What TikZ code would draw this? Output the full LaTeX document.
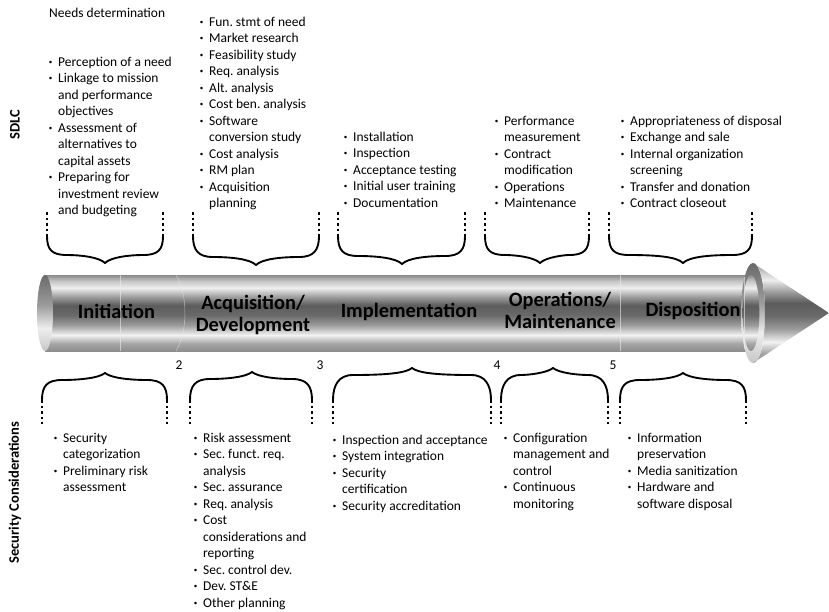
\documentclass[tikz,border=0pt]{standalone}
\usepackage{fontspec}
\setmainfont{Carlito}

% metal bands of the tube, bottom to top
\definecolor{mA}{HTML}{8E8E8E}
\definecolor{mB}{HTML}{A6A6A6}
\definecolor{mC}{HTML}{F2F2F2}
\definecolor{mD}{HTML}{9C9C9C}
\definecolor{mE}{HTML}{6A6A6A}
\definecolor{mF}{HTML}{5C5C5C}
\definecolor{mG}{HTML}{A2A2A2}
\definecolor{mH}{HTML}{EEEEEE}
\definecolor{mI}{HTML}{C6C6C6}
\definecolor{mJ}{HTML}{8A8A8A}
\pgfdeclareverticalshading{metal}{100bp}{color(0bp)=(mA); color(25bp)=(mA); color(30bp)=(mB);
  color(35.5bp)=(mC); color(42bp)=(mD); color(48.5bp)=(mE); color(55bp)=(mF); color(61bp)=(mG);
  color(66.5bp)=(mH); color(71bp)=(mI); color(75bp)=(mJ); color(100bp)=(mJ)}
\pgfdeclareverticalshading{capshade}{100bp}{color(0bp)=(mI); color(25bp)=(mI); color(40bp)=(mH);
  color(55bp)=(mD); color(75bp)=(mE); color(100bp)=(mE)}

\newlength\bulind \setlength\bulind{8pt}
\newcommand\itm{\par\hangindent=\bulind\hangafter=1\noindent
  \hbox to\bulind{\raisebox{0.3ex}{\fontsize{6}{6}\selectfont\textbullet}\hss}}
\newcommand\bullets[1]{\begin{minipage}[t]{6cm}\rightskip=0pt plus 1fil\relax
  \parindent=0pt\frenchspacing #1\end{minipage}}

% braces: left x, right x, cusp x, cusp y
\newcommand\topbrace[4]{%
  \draw[bracedash] (#1,212) -- (#1,236) (#2,212) -- (#2,236);
  \draw[bracecurve] (#1,236) .. controls (#1,250) and (#1+5,#4-8) .. (#1+20,#4-8)
    .. controls (#3-25,#4-8) and (#3-6,#4-6) .. (#3,#4)
    .. controls (#3+6,#4-6) and (#3+25,#4-8) .. (#2-20,#4-8)
    .. controls (#2-5,#4-8) and (#2,250) .. (#2,236);}
\newcommand\botbrace[4]{%
  \draw[bracedash] (#1,400) -- (#1,424) (#2,400) -- (#2,424);
  \draw[bracecurve] (#1,400) .. controls (#1,386) and (#1+5,#4+7) .. (#1+20,#4+7)
    .. controls (#3-25,#4+7) and (#3-6,#4+5) .. (#3,#4)
    .. controls (#3+6,#4+5) and (#3+25,#4+7) .. (#2-20,#4+7)
    .. controls (#2-5,#4+7) and (#2,386) .. (#2,400);}

\begin{document}
\begin{tikzpicture}[x=0.03cm, y=-0.03cm,
    lst/.style={anchor=base west, inner sep=0pt, font=\fontsize{11.5}{14.1}\selectfont},
    phase/.style={anchor=base, inner sep=0pt, align=center,
      font=\fontsize{17.4}{18.3}\selectfont\bfseries},
    side/.style={rotate=90, inner sep=0pt, font=\fontsize{12.4}{14}\selectfont\bfseries},
    num/.style={anchor=base, inner sep=0pt, font=\fontsize{11.5}{14}\selectfont},
    bracecurve/.style={line width=1.6pt},
    bracedash/.style={line width=1.6pt, dash pattern=on 2.5pt off 2.2pt},
    divider/.style={white!85!gray, line width=0.4pt, opacity=0.6}]
  \useasboundingbox (0,0) rectangle (829,612);

  % the tube
  \shade[shading=metal] (45,275) rectangle (753,351);
  \shade[shading=capshade] (45,313) ellipse [x radius=0.24cm, y radius=1.14cm];
  \draw[divider] (120,275) -- (120,351);
  \draw[divider] (176,275) .. controls (188,295) and (188,331) .. (176,351);
  \draw[divider] (620,275) -- (620,351);
  % arrow head
  \shade[shading=capshade] (753,313) ellipse [x radius=0.36cm, y radius=1.5cm];
  \shade[shading=metal] (751,313) ellipse [x radius=0.25cm, y radius=1.14cm];
  \shade[shading=metal] (753,263) -- (829,313) -- (753,363)
    .. controls (769,363) and (769,263) .. (753,263) -- cycle;
  \draw[divider] (744,277) -- (744,349);

  \node[phase] (init) at (116.5,318) {Initiation};
  \node[phase] (acq) at (253,331) {Acquisition/\\Development};
  \node[phase] (impl) at (409,317) {Implementation};
  \node[phase] (oper) at (560,328) {Operations/\\Maintenance};
  \node[phase] (disp) at (693,316) {Disposition};

  \node[num] (n2) at (179,369) {2};
  \node[num] (n3) at (320,369) {3};
  \node[num] (n4) at (497,369) {4};
  \node[num] (n5) at (613,369) {5};

  \node[side] (sdlc) at (15,125) {SDLC};
  \node[side] (secu) at (15,492.5) {Security Considerations};
  \node[lst] (needs) at (49,17) {Needs determination};

  % activities above the tube
  \node[lst] (top1) at (48.6,66) {\bullets{\itm Perception of a need
    \itm Linkage to mission\\and performance\\objectives
    \itm Assessment of\\alternatives to\\capital assets
    \itm Preparing for\\investment review\\and budgeting}};
  \node[lst] (top2) at (199.6,26) {\bullets{\itm Fun. stmt of need \itm Market research
    \itm Feasibility study \itm Req. analysis \itm Alt. analysis
    \itm Cost ben. analysis \itm Software\\conversion study \itm Cost analysis
    \itm RM plan \itm Acquisition\\planning}};
  \node[lst] (top3) at (343.6,141) {\bullets{\itm Installation \itm Inspection
    \itm Acceptance testing \itm Initial user training \itm Documentation}};
  \node[lst] (top4) at (494.6,125) {\bullets{\itm Performance\\measurement
    \itm Contract\\modification \itm Operations \itm Maintenance}};
  \node[lst] (top5) at (620.6,125) {\bullets{\itm Appropriateness of disposal
    \itm Exchange and sale \itm Internal organization\\screening
    \itm Transfer and donation \itm Contract closeout}};

  % security activities below the tube
  \node[lst] (bot1) at (53.6,442) {\bullets{\itm Security\\categorization
    \itm Preliminary risk\\assessment}};
  \node[lst] (bot2) at (193.6,442) {\bullets{\itm Risk assessment
    \itm Sec. funct. req.\\analysis \itm Sec. assurance \itm Req. analysis
    \itm Cost\\considerations and\\reporting \itm Sec. control dev.
    \itm Dev. ST\&E \itm Other planning}};
  \node[lst] (bot3) at (332.6,444) {\bullets{\itm Inspection and acceptance
    \itm System integration \itm Security\\certification
    \itm Security accreditation}};
  \node[lst] (bot4) at (503.6,442) {\bullets{\itm Configuration\\management and\\control
    \itm Continuous\\monitoring}};
  \node[lst] (bot5) at (627.6,442) {\bullets{\itm Information\\preservation
    \itm Media sanitization \itm Hardware and\\software disposal}};

  \topbrace{47}{163}{105}{263}
  \topbrace{193}{319}{256}{265}
  \topbrace{338}{465}{402}{264}
  \topbrace{485}{589}{540}{263}
  \topbrace{609}{752}{683}{263}
  \botbrace{42}{167}{105}{373}
  \botbrace{190}{312}{252}{372}
  \botbrace{333}{491}{412}{368}
  \botbrace{501}{608}{553}{368}
  \botbrace{620}{746}{683}{373}
\end{tikzpicture}
\end{document}
